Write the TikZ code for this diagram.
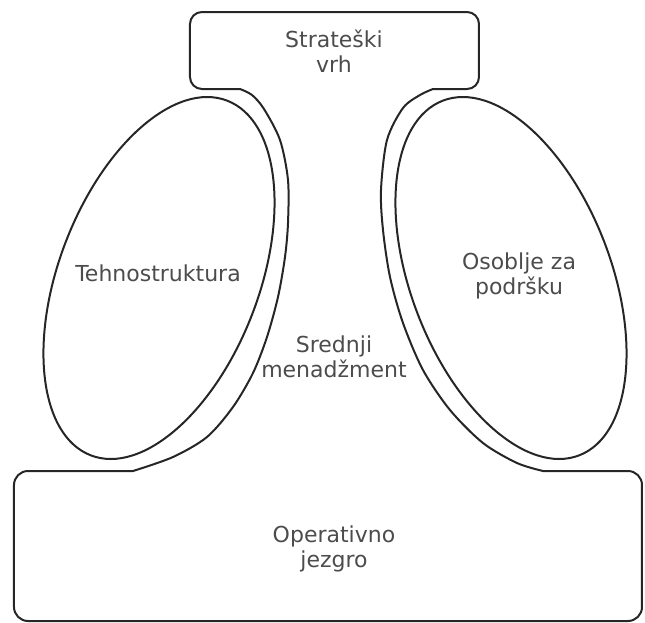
\documentclass[tikz,border=0pt]{standalone}
\usepackage{fontspec}
\setmainfont{DejaVu Sans}

\begin{document}
\begin{tikzpicture}[x=0.5pt, y=-0.5pt]
			\tikzstyle{every node}=[align=center, inner sep=0pt, text=black!70, font=\fontsize{11}{12.5}\selectfont]
			\tikzstyle{part}=[draw=black!85, line width=1pt]
				\useasboundingbox (0,0) rectangle (645,623);

				\node (apex) at (334, 51) {Strateški\\vrh};
				\node (techno) at (158, 273) {Tehnostruktura};
				\node (support) at (519, 276) {Osoblje za\\podršku};
				\node (midline) at (334, 357) {Srednji\\menadžment};
				\node (core) at (334, 549) {Operativno\\jezgro};

				% the two staff parts
				\draw[part, rotate around={-21:(159,278)}] (159,278) ellipse [x radius=100, y radius=190];
				\draw[part, rotate around={21:(511,278)}] (511,278) ellipse [x radius=100, y radius=190];

				% apex, middle line and operating core as one outline
				\draw[part] (240,89) [rounded corners=6pt] -- (190,89) -- (190,12) -- (479,12) -- (479,89)
					[sharp corners] -- plot[smooth] coordinates {(433,89) (420,95) (403,108) (387,140) (381,190) (383,230) (390,277) (403,323) (423,370) (450,410) (483,443) (517,463) (543,471)}
					[rounded corners=7pt] -- (642,471) -- (642,621) -- (14,621) -- (14,471)
					[sharp corners] -- plot[smooth] coordinates {(133,471) (173,457) (207,437) (233,407) (253,373) (267,337) (278,297) (285,257) (288,223) (288,180) (280,140) (264,109) (252,95) (240,89)} -- cycle;
			\end{tikzpicture}
\end{document}
